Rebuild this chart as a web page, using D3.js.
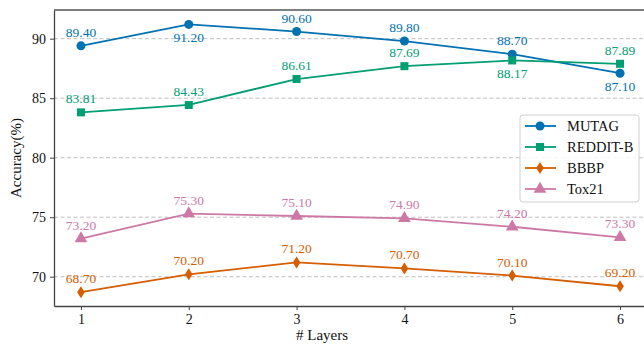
<!DOCTYPE html>
<html>
<head>
<meta charset="utf-8">
<script src="https://cdn.jsdelivr.net/npm/d3@7"></script>
<style>
  body { margin: 0; background: #fff; }
  text { font-family: "Liberation Serif", "DejaVu Serif", serif; }
</style>
</head>
<body>
<div id="chart"></div>
<script>
const layers = [1, 2, 3, 4, 5, 6];
const mutag = [89.40, 91.20, 90.60, 89.80, 88.70, 87.10];
const reddit = [83.81, 84.43, 86.61, 87.69, 88.17, 87.89];
const bbbp = [68.70, 70.20, 71.20, 70.70, 70.10, 69.20];
const tox21 = [73.20, 75.30, 75.10, 74.90, 74.20, 73.30];
const yTicks = [70, 75, 80, 85, 90];
// which labels sit under the point
const mutagBelow = [false, true, false, false, false, true];
const redditBelow = [false, false, false, false, true, false];

const series = [
  {name: "MUTAG", values: mutag, color: "#0072b2", symbol: "circle", below: mutagBelow},
  {name: "REDDIT-B", values: reddit, color: "#009e73", symbol: "square", below: redditBelow},
  {name: "BBBP", values: bbbp, color: "#d55e00", symbol: "diamond", below: null},
  {name: "Tox21", values: tox21, color: "#cc79a7", symbol: "triangle", below: null}
];

const W = 644, H = 348;
const svg = d3.select("#chart").append("svg")
  .attr("width", W)
  .attr("height", H);

const x = d3.scaleLinear().domain([0.75, 6.25]).range([54, 647]);
const y = d3.scaleLinear().domain([67.54, 92.41]).range([306, 10]);

// grid
svg.append("g")
  .selectAll("line")
  .data(yTicks)
  .join("line")
  .attr("x1", 54).attr("x2", W)
  .attr("y1", d => y(d)).attr("y2", d => y(d))
  .attr("stroke", "#b8b8b8")
  .attr("stroke-width", 0.9)
  .attr("stroke-dasharray", "4 2.5");

// axes
const yAxis = svg.append("g")
  .attr("transform", "translate(54,0)")
  .call(d3.axisLeft(y).tickValues(yTicks).tickSize(4).tickSizeOuter(0).tickPadding(4));
const xAxis = svg.append("g")
  .attr("transform", "translate(0,306)")
  .call(d3.axisBottom(x).tickValues(layers).tickSize(4).tickSizeOuter(0).tickPadding(4).tickFormat(d3.format("d")));
[yAxis, xAxis].forEach(a => {
  a.select(".domain").attr("stroke", "#444").attr("stroke-width", 1.3);
  a.selectAll(".tick line").attr("stroke", "#444").attr("stroke-width", 1);
  a.selectAll(".tick text").attr("fill", "#111").style("font-size", "14px")
    .style("font-family", "'Liberation Serif', serif");
});
svg.append("line")
  .attr("x1", 54).attr("x2", W).attr("y1", 10).attr("y2", 10)
  .attr("stroke", "#555").attr("stroke-width", 1.3);

svg.append("text")
  .attr("x", 322).attr("y", 340)
  .attr("text-anchor", "middle")
  .style("font-size", "15px")
  .attr("fill", "#111")
  .text("# Layers");
svg.append("text")
  .attr("transform", "translate(21,158) rotate(-90)")
  .attr("text-anchor", "middle")
  .style("font-size", "15px")
  .attr("fill", "#111")
  .text("Accuracy(%)");

const symbols = {
  circle: d3.symbol().type(d3.symbolCircle).size(64),
  square: d3.symbol().type(d3.symbolSquare).size(64),
  triangle: d3.symbol().type(d3.symbolTriangle).size(70)
};
function drawMarker(g, s) {
  if (s.symbol === "diamond") {
    g.append("path").attr("d", "M0,-6L3.8,0L0,6L-3.8,0Z").attr("fill", s.color);
  } else {
    g.append("path").attr("d", symbols[s.symbol]()).attr("fill", s.color);
  }
}

const line = d3.line().x((d, i) => x(layers[i])).y(d => y(d));

series.forEach(s => {
  svg.append("path")
    .datum(s.values)
    .attr("d", line)
    .attr("fill", "none")
    .attr("stroke", s.color)
    .attr("stroke-width", 1.8);
  s.values.forEach((v, i) => {
    const g = svg.append("g").attr("transform", `translate(${x(layers[i])},${y(v)})`);
    drawMarker(g, s);
    const below = s.below && s.below[i];
    svg.append("text")
      .attr("x", x(layers[i]))
      .attr("y", y(v) + (below ? 18 : -9))
      .attr("text-anchor", "middle")
      .attr("fill", s.color)
      .style("font-size", "13.5px")
      .text(v.toFixed(2));
  });
});

// legend
const lg = svg.append("g").attr("transform", "translate(520,115)");
lg.append("rect")
  .attr("width", 119).attr("height", 87)
  .attr("rx", 3)
  .attr("fill", "#fff").attr("fill-opacity", 0.85)
  .attr("stroke", "#d0d0d0");
series.forEach((s, i) => {
  const row = lg.append("g").attr("transform", `translate(0,${11 + i * 21})`);
  row.append("line")
    .attr("x1", 5).attr("x2", 36)
    .attr("stroke", s.color).attr("stroke-width", 1.8);
  const m = row.append("g").attr("transform", "translate(20,0)");
  drawMarker(m, s);
  row.append("text")
    .attr("x", 47).attr("y", 5)
    .attr("fill", "#111")
    .style("font-size", "14.5px")
    .text(s.name);
});
</script>
</body>
</html>
